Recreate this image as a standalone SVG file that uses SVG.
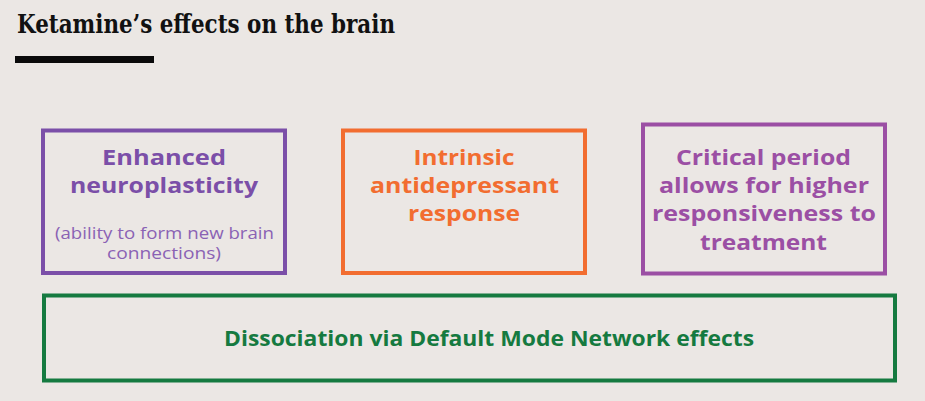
<svg xmlns="http://www.w3.org/2000/svg" width="925" height="401" viewBox="0 0 925 401">
  <style>
    .box { fill: none; stroke-width: 4; }
    .h { font-family: "Open Sans", "DejaVu Sans", sans-serif; font-weight: 700; font-size: 21.8px; text-anchor: middle; }
    .sub { font-family: "Open Sans", "DejaVu Sans", sans-serif; font-weight: 400; font-size: 15.8px; text-anchor: middle; }
    .title { font-family: "DejaVu Serif", "Liberation Serif", serif; font-weight: 700; font-size: 26px; fill: #111; }
  </style>
  <rect width="925" height="401" fill="#ebe7e4"/>
  <g id="title">
    <text class="title" x="17" y="33" textLength="378" lengthAdjust="spacingAndGlyphs">Ketamine’s effects on the brain</text>
    <rect x="15" y="56" width="139" height="7" fill="#0a0a0a"/>
  </g>
  <g id="connectors"></g>
  <g id="neuroplasticity">
    <rect class="box" x="43" y="130.5" width="242" height="142.5" stroke="#7b4fa8"/>
    <text class="h" fill="#7b4fa8"><tspan x="164" y="165" textLength="124" lengthAdjust="spacingAndGlyphs">Enhanced</tspan><tspan x="164" y="193" textLength="188" lengthAdjust="spacingAndGlyphs">neuroplasticity</tspan></text>
    <text class="sub" fill="#8a62b4"><tspan x="164.5" y="238.5" textLength="219" lengthAdjust="spacingAndGlyphs">(ability to form new brain</tspan><tspan x="164" y="258.5" textLength="114" lengthAdjust="spacingAndGlyphs">connections)</tspan></text>
  </g>
  <g id="antidepressant">
    <rect class="box" x="343" y="130.5" width="242" height="142.5" stroke="#f26d30"/>
    <text class="h" fill="#f26d30"><tspan x="464" y="165" textLength="101" lengthAdjust="spacingAndGlyphs">Intrinsic</tspan><tspan x="464.5" y="193" textLength="189" lengthAdjust="spacingAndGlyphs">antidepressant</tspan><tspan x="464" y="220.5" textLength="112" lengthAdjust="spacingAndGlyphs">response</tspan></text>
  </g>
  <g id="critical-period">
    <rect class="box" x="643" y="124.5" width="242" height="149" stroke="#9b4fa4"/>
    <text class="h" fill="#9b4fa4"><tspan x="763.5" y="164.5" textLength="175" lengthAdjust="spacingAndGlyphs">Critical period</tspan><tspan x="764" y="192.5" textLength="210" lengthAdjust="spacingAndGlyphs">allows for higher</tspan><tspan x="764" y="221" textLength="224" lengthAdjust="spacingAndGlyphs">responsiveness to</tspan><tspan x="763.5" y="249.5" textLength="127" lengthAdjust="spacingAndGlyphs">treatment</tspan></text>
  </g>
  <g id="dissociation">
    <rect class="box" x="44" y="295.5" width="851" height="85" stroke="#157a40"/>
    <text class="h" x="489" y="346" fill="#157a40" font-size="21px" textLength="530" lengthAdjust="spacingAndGlyphs">Dissociation via Default Mode Network effects</text>
  </g>
</svg>
